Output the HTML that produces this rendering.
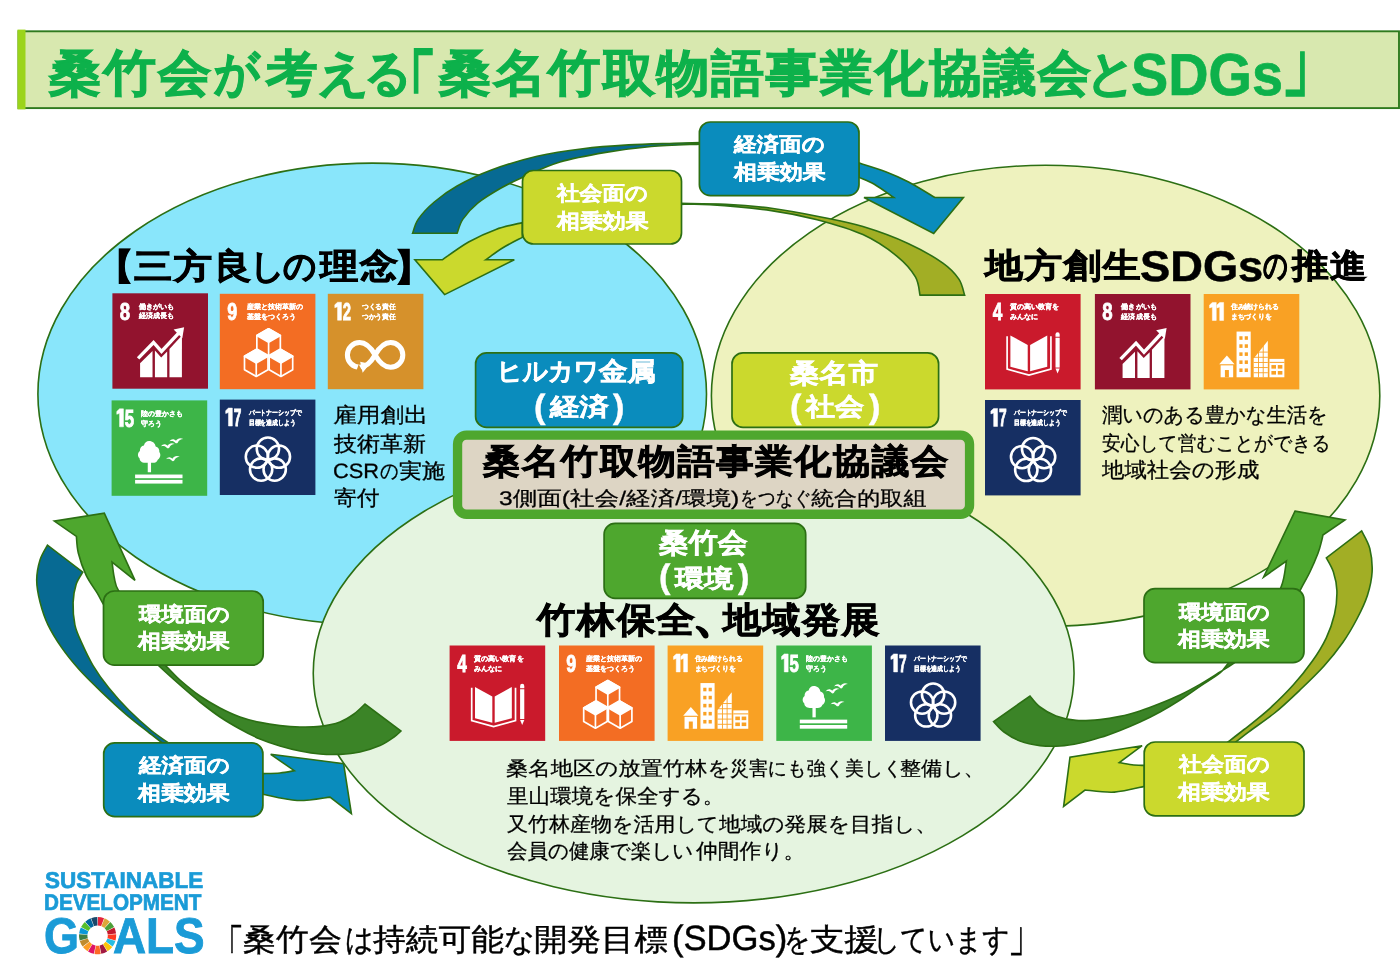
<!DOCTYPE html>
<html lang="ja">
<head>
<meta charset="utf-8">
<title>桑竹会が考える「桑名竹取物語事業化協議会とSDGs」</title>
<style>
html,body{margin:0;padding:0;background:#fff}
body{width:1400px;height:979px;position:relative;overflow:hidden;font-family:"Liberation Sans",sans-serif}
#bg{position:absolute;left:0;top:0;will-change:transform}
#tx{position:absolute;left:0;top:0;width:1400px;height:979px;will-change:transform}
.t{position:absolute;white-space:nowrap;line-height:1;transform-origin:0 0;margin:0;padding:0;text-rendering:geometricPrecision}
.b{font-weight:bold}
.w{color:#fff}
</style>
</head>
<body>
<svg id="bg" width="1400" height="979" viewBox="0 0 1400 979">
<rect x="18.5" y="31.3" width="1380.5" height="76.8" fill="#d8e8af" stroke="#2f7a1e" stroke-width="1.9"/>
<rect x="17.5" y="29.6" width="8" height="79.8" fill="#9bd41a"/>
<ellipse cx="372.2" cy="394" rx="334.3" ry="230.9" fill="#89e6fb" stroke="#2c6f14" stroke-width="1.6"/>
<ellipse cx="1045.6" cy="395.8" rx="334.2" ry="230.5" fill="#eef2be" stroke="#2c6f14" stroke-width="1.6"/>
<ellipse cx="693.65" cy="673.3" rx="380.4" ry="229.55" fill="#e5f4e0" stroke="#2c6f14" stroke-width="1.6"/>
<path d="M412.6,233.3 C413.6,230.9 414.7,224.3 418.3,219.1 C421.9,213.9 427.8,207.5 434.3,202.0 C440.8,196.5 447.6,191.3 457.1,186.0 C466.6,180.7 478.1,174.9 491.4,170.0 C504.7,165.1 521.9,159.9 537.1,156.3 C552.4,152.8 567.6,150.6 582.9,148.7 C598.1,146.8 613.4,145.8 628.6,144.9 C643.8,144.0 662.4,143.7 674.3,143.3 C686.2,142.9 695.7,142.7 700.0,142.6 L700.0,144.2 C691.9,144.6 667.1,145.1 651.4,146.5 C635.7,147.9 620.9,149.8 605.7,152.4 C590.5,155.0 573.7,157.9 560.0,162.0 C546.3,166.1 533.3,172.5 523.4,176.9 C513.5,181.3 508.2,183.9 500.6,188.3 C493.0,192.7 484.0,198.0 477.7,203.1 C471.4,208.2 466.3,214.1 462.9,219.1 C459.5,224.1 458.1,230.9 457.1,233.3 Z" fill="#076a93" stroke="#2c6f14" stroke-width="1.6" stroke-linejoin="miter"/>
<path d="M859.0,163.0 C863.5,164.4 877.4,168.5 885.7,171.7 C894.0,174.9 900.4,177.7 908.6,182.0 C916.8,186.3 930.5,194.9 934.9,197.5 L963.4,197.5 L933.7,233.4 L864.0,197.5 L893.7,197.5 C890.5,195.3 880.1,187.7 874.3,184.3 C868.5,181.0 861.5,178.6 859.0,177.4 Z" fill="#0a8cbd" stroke="#2c6f14" stroke-width="1.6" stroke-linejoin="miter"/>
<path d="M680.0,203.3 C687.6,203.5 710.5,203.4 725.7,204.2 C740.9,205.0 756.2,206.3 771.4,208.3 C786.6,210.3 801.9,213.2 817.1,216.3 C832.4,219.4 847.6,222.0 862.9,226.6 C878.1,231.2 895.3,237.6 908.6,243.7 C921.9,249.8 934.5,257.2 942.9,263.1 C951.3,269.0 955.3,273.8 958.9,279.1 C962.5,284.4 963.6,292.4 964.6,295.1 L920.0,295.1 C919.2,292.1 919.2,283.4 915.4,276.9 C911.6,270.4 905.9,263.4 897.1,256.3 C888.4,249.2 876.2,240.7 862.9,234.6 C849.6,228.5 832.4,223.7 817.1,219.7 C801.9,215.7 789.3,213.1 771.4,210.6 C753.5,208.1 724.9,205.6 709.7,204.6 C694.5,203.6 685.0,204.4 680.0,204.4 Z" fill="#a2ae25" stroke="#2c6f14" stroke-width="1.6" stroke-linejoin="miter"/>
<path d="M522.3,222.6 C517.9,223.7 504.9,226.2 496.0,229.4 C487.1,232.6 477.6,236.9 468.6,242.0 C459.7,247.1 446.7,256.8 442.3,259.8 L414.9,259.8 L444.6,294.6 L514.3,259.8 L485.7,259.8 C488.6,257.8 496.8,251.4 502.9,247.7 C509.0,244.0 519.1,239.1 522.3,237.4 Z" fill="#cbd92d" stroke="#2c6f14" stroke-width="1.6" stroke-linejoin="miter"/>
<path d="M150.0,652.0 C152.7,654.3 161.0,661.3 166.0,666.0 C171.0,670.7 174.3,675.0 180.0,680.0 C185.7,685.0 193.3,691.3 200.0,696.0 C206.7,700.7 213.3,704.5 220.0,708.0 C226.7,711.5 233.3,714.6 240.0,717.0 C246.7,719.4 253.3,721.0 260.0,722.4 C266.7,723.8 273.3,724.8 280.0,725.6 C286.7,726.4 293.3,726.9 300.0,727.0 C306.7,727.1 313.3,727.2 320.0,726.4 C326.7,725.6 334.3,724.1 340.0,722.0 C345.7,719.9 349.8,717.0 354.0,714.0 C358.2,711.0 363.2,705.7 365.0,704.0 L401.0,731.0 C399.8,732.0 397.5,734.6 394.0,737.0 C390.5,739.4 385.7,743.1 380.0,745.6 C374.3,748.1 366.7,750.5 360.0,752.0 C353.3,753.5 346.7,754.1 340.0,754.4 C333.3,754.7 326.7,754.6 320.0,754.0 C313.3,753.4 306.7,752.3 300.0,751.0 C293.3,749.7 286.7,748.0 280.0,746.0 C273.3,744.0 266.7,741.8 260.0,739.0 C253.3,736.2 246.7,732.7 240.0,729.0 C233.3,725.3 226.7,721.5 220.0,717.0 C213.3,712.5 206.7,707.3 200.0,702.0 C193.3,696.7 186.8,691.0 180.0,685.0 C173.2,679.0 164.8,671.5 159.0,666.0 C153.2,660.5 147.3,654.3 145.0,652.0 Z" fill="#3b8427" stroke="#2c6f14" stroke-width="1.6" stroke-linejoin="miter"/>
<path d="M54.3,521.1 L104.3,513.1 L135.0,580.3 L112.1,562.1 C112.5,565.1 113.2,572.9 114.3,577.7 C115.4,582.5 114.5,584.2 118.8,591.2 C123.1,598.2 136.5,615.2 140.0,620.0 L120.0,630.0 C117.2,625.6 106.8,609.6 103.0,603.5 C99.2,597.4 100.2,598.1 97.4,593.4 C94.6,588.7 89.4,582.1 86.2,575.4 C83.0,568.7 79.9,559.5 78.3,553.0 C76.7,546.5 76.7,539.2 76.4,536.4 Z" fill="#4ea72e" stroke="#2c6f14" stroke-width="1.6" stroke-linejoin="miter"/>
<path d="M47.5,545.1 C46.3,547.5 41.9,553.9 40.1,559.7 C38.3,565.5 36.7,572.9 36.7,580.0 C36.7,587.1 38.2,594.9 40.1,602.4 C42.0,609.9 44.4,617.4 48.0,624.9 C51.6,632.4 56.3,639.9 61.5,647.4 C66.7,654.9 72.7,662.3 79.4,669.8 C86.1,677.3 94.0,684.8 101.9,692.3 C109.8,699.8 118.7,708.0 126.6,714.8 C134.5,721.5 142.5,727.6 149.1,732.8 C155.7,738.0 163.2,743.8 166.0,746.0 L173.0,746.0 C169.4,743.4 158.7,736.5 151.3,730.5 C144.0,724.5 136.0,717.4 128.9,710.3 C121.8,703.2 114.7,695.3 108.7,687.8 C102.7,680.3 97.4,672.8 92.9,665.3 C88.4,657.8 84.7,649.6 81.7,642.9 C78.7,636.2 76.3,631.6 74.9,624.9 C73.5,618.1 72.9,609.1 73.1,602.4 C73.3,595.6 74.5,589.4 76.1,584.4 C77.7,579.4 81.7,574.1 82.8,572.1 Z" fill="#076a93" stroke="#2c6f14" stroke-width="1.6" stroke-linejoin="miter"/>
<path d="M262.9,773.6 C265.8,773.5 274.8,773.5 280.0,773.0 C285.2,772.5 291.9,771.1 294.3,770.7 L270.7,754.3 L343.6,763.6 L351.4,813.6 L330.0,797.1 C324.5,797.7 308.3,801.0 297.1,800.5 C285.9,800.0 268.6,795.3 262.9,794.3 Z" fill="#0a8cbd" stroke="#2c6f14" stroke-width="1.6" stroke-linejoin="miter"/>
<path d="M1248.0,652.0 C1245.7,653.8 1238.7,659.7 1234.0,663.0 C1229.3,666.3 1225.7,668.4 1220.0,672.0 C1214.3,675.6 1206.7,680.6 1200.0,684.4 C1193.3,688.2 1186.7,691.8 1180.0,695.0 C1173.3,698.2 1166.7,700.9 1160.0,703.6 C1153.3,706.3 1146.7,708.9 1140.0,711.0 C1133.3,713.1 1126.7,715.0 1120.0,716.4 C1113.3,717.8 1107.3,718.9 1100.0,719.6 C1092.7,720.3 1083.3,721.0 1076.0,720.4 C1068.7,719.8 1062.0,718.2 1056.0,716.0 C1050.0,713.8 1044.3,710.3 1040.0,707.0 C1035.7,703.7 1031.7,697.8 1030.0,696.0 L993.6,721.6 C995.3,723.3 999.6,728.8 1004.0,732.0 C1008.4,735.2 1014.0,738.7 1020.0,741.0 C1026.0,743.3 1033.3,744.8 1040.0,745.6 C1046.7,746.4 1053.3,746.4 1060.0,746.0 C1066.7,745.6 1073.3,744.4 1080.0,743.0 C1086.7,741.6 1093.3,739.7 1100.0,737.6 C1106.7,735.5 1113.3,733.0 1120.0,730.4 C1126.7,727.8 1133.3,725.1 1140.0,722.0 C1146.7,718.9 1153.3,715.7 1160.0,712.0 C1166.7,708.3 1173.3,704.3 1180.0,700.0 C1186.7,695.7 1193.3,690.9 1200.0,686.4 C1206.7,681.9 1215.3,676.8 1220.0,673.0 C1224.7,669.2 1224.7,667.1 1228.0,663.6 C1231.3,660.1 1238.0,653.9 1240.0,652.0 Z" fill="#3b8427" stroke="#2c6f14" stroke-width="1.6" stroke-linejoin="miter"/>
<path d="M1295.0,511.1 L1345.0,520.0 L1322.9,535.0 C1322.7,536.0 1322.4,538.0 1321.6,541.0 C1320.8,544.0 1320.0,548.0 1318.0,553.2 C1316.0,558.4 1312.8,565.9 1309.9,572.0 C1307.0,578.1 1303.8,582.9 1300.5,589.6 C1297.2,596.3 1291.8,608.3 1290.0,612.0 L1270.0,610.0 C1271.8,606.4 1278.2,594.0 1280.5,588.5 C1282.8,583.0 1283.0,581.3 1284.0,576.7 C1285.0,572.1 1286.0,563.6 1286.4,561.0 L1263.6,577.1 Z" fill="#4ea72e" stroke="#2c6f14" stroke-width="1.6" stroke-linejoin="miter"/>
<path d="M1361.6,530.9 C1363.0,533.8 1368.0,541.6 1369.8,548.5 C1371.5,555.4 1372.5,564.2 1372.1,572.0 C1371.7,579.8 1369.9,587.7 1367.4,595.5 C1364.9,603.3 1361.0,611.2 1356.9,619.0 C1352.8,626.8 1348.3,634.7 1342.8,642.5 C1337.3,650.3 1331.0,658.2 1324.0,666.0 C1317.0,673.8 1308.7,681.7 1300.5,689.5 C1292.3,697.3 1283.2,706.0 1274.6,713.0 C1266.0,720.0 1255.9,726.5 1248.8,731.8 C1241.7,737.1 1234.8,742.8 1232.0,745.0 L1224.0,745.0 C1227.3,742.4 1236.4,735.6 1244.1,729.5 C1251.8,723.4 1261.7,715.8 1269.9,708.3 C1278.1,700.8 1286.4,692.6 1293.4,684.8 C1300.5,677.0 1306.7,669.1 1312.2,661.3 C1317.7,653.5 1322.6,645.6 1326.3,637.8 C1330.0,630.0 1332.7,622.1 1334.5,614.3 C1336.3,606.5 1337.1,597.8 1336.9,590.8 C1336.7,583.8 1335.2,577.5 1333.4,572.0 C1331.6,566.5 1327.5,560.2 1326.3,557.9 Z" fill="#a2ae25" stroke="#2c6f14" stroke-width="1.6" stroke-linejoin="miter"/>
<path d="M1142.1,745.7 L1070.0,757.1 L1063.6,806.4 L1085.0,790.0 C1089.9,790.4 1104.4,792.7 1114.3,792.1 C1124.2,791.5 1139.3,787.4 1144.3,786.4 L1144.3,765.4 C1142.2,765.3 1136.2,765.3 1132.0,764.8 C1127.8,764.3 1121.4,763.0 1119.3,762.6 Z" fill="#cbd92d" stroke="#2c6f14" stroke-width="1.6" stroke-linejoin="miter"/>
<rect x="699.4" y="122.0" width="159.6" height="73.7" rx="11" fill="#0a8cbd" stroke="#2c6f14" stroke-width="1.7"/>
<rect x="522.5" y="170.5" width="159.0" height="73.5" rx="11" fill="#cbd92d" stroke="#2c6f14" stroke-width="1.7"/>
<rect x="103.5" y="591.0" width="159.7" height="74.2" rx="11" fill="#4ea72e" stroke="#2c6f14" stroke-width="1.7"/>
<rect x="103.7" y="742.9" width="159.2" height="73.7" rx="11" fill="#0a8cbd" stroke="#2c6f14" stroke-width="1.7"/>
<rect x="1144.0" y="588.7" width="160.0" height="74.0" rx="11" fill="#4ea72e" stroke="#2c6f14" stroke-width="1.7"/>
<rect x="1144.2" y="742.0" width="159.8" height="73.8" rx="11" fill="#cbd92d" stroke="#2c6f14" stroke-width="1.7"/>
<rect x="475.6" y="352.9" width="207.1" height="74.5" rx="11" fill="#0a8cbd" stroke="#2c6f14" stroke-width="1.7"/>
<rect x="732.0" y="352.9" width="206.6" height="74.5" rx="11" fill="#cbd92d" stroke="#2c6f14" stroke-width="1.7"/>
<rect x="604.1" y="523.4" width="201.6" height="74.9" rx="11" fill="#4ea72e" stroke="#2c6f14" stroke-width="1.7"/>
<rect x="457.55" y="435.15" width="512" height="79.1" rx="9" fill="#ddd5c4" stroke="#4ea72e" stroke-width="9.3"/>
<g transform="translate(112.4,293.3) scale(0.9958,0.9938)"><rect x="0" y="0" width="96" height="96" fill="#92132e"/><text x="7.3" y="26.5" font-family="'Liberation Sans',sans-serif" font-weight="bold" font-size="24.6" fill="#fff" stroke="#fff" stroke-width="0.9" textLength="10.4" lengthAdjust="spacingAndGlyphs">8</text><text x="26.6" y="15.3" font-family="'Liberation Sans',sans-serif" font-weight="bold" font-size="7.2" fill="#fff" stroke="#fff" stroke-width="0.22" textLength="35.5" lengthAdjust="spacingAndGlyphs">働きがいも</text><text x="26.6" y="25.3" font-family="'Liberation Sans',sans-serif" font-weight="bold" font-size="7.2" fill="#fff" stroke="#fff" stroke-width="0.22" textLength="35.5" lengthAdjust="spacingAndGlyphs">経済成長も</text><polygon points="27.8,84.4 27.8,70.5 40.3,58 40.3,84.4" fill="#fff"/><polygon points="42.7,84.4 42.7,57.5 49,64.5 55,58.5 55,84.4" fill="#fff"/><polygon points="57.3,84.4 57.3,56 69.8,42.5 69.8,84.4" fill="#fff"/><polyline points="25.8,65.5 41.3,49.5 49.3,58.5 67,39.5" fill="none" stroke="#fff" stroke-width="3.4" stroke-linejoin="miter"/><polygon points="72,34.2 70.2,45.2 61.5,36.5" fill="#fff"/></g>
<g transform="translate(219.8,293.8) scale(0.9958,0.9938)"><rect x="0" y="0" width="96" height="96" fill="#f36d23"/><text x="7.4" y="26.5" font-family="'Liberation Sans',sans-serif" font-weight="bold" font-size="24.6" fill="#fff" stroke="#fff" stroke-width="0.9" textLength="10.0" lengthAdjust="spacingAndGlyphs">9</text><text x="27.1" y="15.3" font-family="'Liberation Sans',sans-serif" font-weight="bold" font-size="7.2" fill="#fff" stroke="#fff" stroke-width="0.22" textLength="56.6" lengthAdjust="spacingAndGlyphs">産業と技術革新の</text><text x="27.1" y="25.3" font-family="'Liberation Sans',sans-serif" font-weight="bold" font-size="7.2" fill="#fff" stroke="#fff" stroke-width="0.22" textLength="49.5" lengthAdjust="spacingAndGlyphs">基盤をつくろう</text><polygon points="49.0,35.2 60.8,42.0 49.0,48.8 37.2,42.0" fill="#fff" stroke="#fff" stroke-width="1.7" stroke-linejoin="round"/><polygon points="49.0,35.2 60.8,42.0 60.8,55.6 49.0,62.4 37.2,55.6 37.2,42.0" fill="none" stroke="#fff" stroke-width="1.7" stroke-linejoin="round"/><polyline points="49.0,48.8 49.0,62.4" fill="none" stroke="#fff" stroke-width="1.7"/><polygon points="36.6,56.0 48.4,62.8 36.6,69.6 24.8,62.8" fill="#fff" stroke="#fff" stroke-width="1.7" stroke-linejoin="round"/><polygon points="36.6,56.0 48.4,62.8 48.4,76.4 36.6,83.2 24.8,76.4 24.8,62.8" fill="none" stroke="#fff" stroke-width="1.7" stroke-linejoin="round"/><polyline points="36.6,69.6 36.6,83.2" fill="none" stroke="#fff" stroke-width="1.7"/><polygon points="61.4,56.0 73.2,62.8 61.4,69.6 49.6,62.8" fill="#fff" stroke="#fff" stroke-width="1.7" stroke-linejoin="round"/><polygon points="61.4,56.0 73.2,62.8 73.2,76.4 61.4,83.2 49.6,76.4 49.6,62.8" fill="none" stroke="#fff" stroke-width="1.7" stroke-linejoin="round"/><polyline points="61.4,69.6 61.4,83.2" fill="none" stroke="#fff" stroke-width="1.7"/></g>
<g transform="translate(327.8,293.8) scale(0.9958,0.9938)"><rect x="0" y="0" width="96" height="96" fill="#d6912b"/><path d="M9.8,8.5 h3.9 v18.1 h-3.9 v-13.6 l-2.8,1 v-2.9 z" fill="#fff" stroke="#fff" stroke-width="0.5"/><text x="15.1" y="26.5" font-family="'Liberation Sans',sans-serif" font-weight="bold" font-size="24.6" fill="#fff" stroke="#fff" stroke-width="0.9" textLength="8.3" lengthAdjust="spacingAndGlyphs">2</text><text x="34.2" y="15.3" font-family="'Liberation Sans',sans-serif" font-weight="bold" font-size="7.2" fill="#fff" stroke="#fff" stroke-width="0.22" textLength="34.2" lengthAdjust="spacingAndGlyphs">つくる責任</text><text x="34.2" y="25.3" font-family="'Liberation Sans',sans-serif" font-weight="bold" font-size="7.2" fill="#fff" stroke="#fff" stroke-width="0.22" textLength="34.2" lengthAdjust="spacingAndGlyphs">つかう責任</text><g transform="translate(47.5,61.5) scale(0.94) translate(-47.5,-61.8)"><path d="M47.5,61.8 C43,54 38,48.6 31,48.6 C23.7,48.6 17.9,54.5 17.9,61.8 C17.9,69.1 23.7,75 31,75 C38,75 43,69.6 47.5,61.8 C52,54 57,48.6 64,48.6 C71.3,48.6 77.1,54.5 77.1,61.8 C77.1,69.1 71.3,75 64,75 C57,75 52,69.6 47.5,61.8" fill="none" stroke="#fff" stroke-width="5.4"/><polygon points="31.5,69.2 41.8,71.2 34.2,80.8" fill="#fff"/><polygon points="30,71.8 33.5,78.5 27.5,78.8" fill="#d6912b"/></g></g>
<g transform="translate(111.6,400.4) scale(0.9958,0.9938)"><rect x="0" y="0" width="96" height="96" fill="#3db548"/><path d="M8.0,8.5 h3.9 v18.1 h-3.9 v-13.6 l-2.8,1 v-2.9 z" fill="#fff" stroke="#fff" stroke-width="0.5"/><text x="13.3" y="26.5" font-family="'Liberation Sans',sans-serif" font-weight="bold" font-size="24.6" fill="#fff" stroke="#fff" stroke-width="0.9" textLength="9.4" lengthAdjust="spacingAndGlyphs">5</text><text x="30.0" y="15.3" font-family="'Liberation Sans',sans-serif" font-weight="bold" font-size="7.2" fill="#fff" stroke="#fff" stroke-width="0.22" textLength="41.4" lengthAdjust="spacingAndGlyphs">陸の豊かさも</text><text x="30.0" y="25.3" font-family="'Liberation Sans',sans-serif" font-weight="bold" font-size="7.2" fill="#fff" stroke="#fff" stroke-width="0.22" textLength="20.7" lengthAdjust="spacingAndGlyphs">守ろう</text><path transform="translate(37.9,62.3) scale(0.88,0.93) translate(-37.9,-62.3)" d="M37.5,39.2 c4.2,0 7.2,2.6 7.6,6 c3,0.8 4.6,3.2 4.2,6 c2,2.4 1.4,6.6 -1.8,8.2 c-1,2.6 -3.4,3.6 -6,3.4 h-8.6 c-3.4,0 -6,-2 -6.2,-5 c-2.6,-2.2 -2.2,-6 0.4,-7.8 c-0.2,-3.2 1.8,-5.6 4.6,-6 c0.8,-3 3,-4.8 5.8,-4.8 z" fill="#fff"/><rect x="36.3" y="61" width="3.3" height="11.3" fill="#fff"/><rect x="23.6" y="74.6" width="47.6" height="3.7" fill="#fff"/><rect x="23.6" y="80" width="47.6" height="3.7" fill="#fff"/><path d="M49.5,46.2 c2,-2.6 4.6,-2.8 6.6,-0.6 c1.6,-2.6 4.6,-3.2 7.4,-1.8 c-2.6,0.2 -4.4,1.2 -5.6,3.8 c-0.8,0.8 -1.8,0.8 -2.6,0 c-1.4,-1.8 -3.2,-2.2 -5.8,-1.4 z" fill="#fff"/><path d="M58.0,41.2 c2,-2.6 4.6,-2.8 6.6,-0.6 c1.6,-2.6 4.6,-3.2 7.4,-1.8 c-2.6,0.2 -4.4,1.2 -5.6,3.8 c-0.8,0.8 -1.8,0.8 -2.6,0 c-1.4,-1.8 -3.2,-2.2 -5.8,-1.4 z" fill="#fff"/><path d="M54.5,59.2 c2,-2.6 4.6,-2.8 6.6,-0.6 c1.6,-2.6 4.6,-3.2 7.4,-1.8 c-2.6,0.2 -4.4,1.2 -5.6,3.8 c-0.8,0.8 -1.8,0.8 -2.6,0 c-1.4,-1.8 -3.2,-2.2 -5.8,-1.4 z" fill="#fff"/></g>
<g transform="translate(219.8,399.6) scale(0.9958,0.9938)"><rect x="0" y="0" width="96" height="96" fill="#162f63"/><path d="M8.7,8.5 h3.9 v18.1 h-3.9 v-13.6 l-2.8,1 v-2.9 z" fill="#fff" stroke="#fff" stroke-width="0.5"/><text x="14.0" y="26.5" font-family="'Liberation Sans',sans-serif" font-weight="bold" font-size="24.6" fill="#fff" stroke="#fff" stroke-width="0.9" textLength="7.7" lengthAdjust="spacingAndGlyphs">7</text><text x="29.0" y="15.3" font-family="'Liberation Sans',sans-serif" font-weight="bold" font-size="7.2" fill="#fff" stroke="#fff" stroke-width="0.22" textLength="53.1" lengthAdjust="spacingAndGlyphs">パートナーシップで</text><text x="29.0" y="25.3" font-family="'Liberation Sans',sans-serif" font-weight="bold" font-size="7.2" fill="#fff" stroke="#fff" stroke-width="0.22" textLength="47.2" lengthAdjust="spacingAndGlyphs">目標を達成しよう</text><circle cx="48.30" cy="49.40" r="11.2" fill="none" stroke="#fff" stroke-width="2.6"/><circle cx="59.33" cy="57.42" r="11.2" fill="none" stroke="#fff" stroke-width="2.6"/><circle cx="55.12" cy="70.38" r="11.2" fill="none" stroke="#fff" stroke-width="2.6"/><circle cx="41.48" cy="70.38" r="11.2" fill="none" stroke="#fff" stroke-width="2.6"/><circle cx="37.27" cy="57.42" r="11.2" fill="none" stroke="#fff" stroke-width="2.6"/></g>
<g transform="translate(985.0,294.0) scale(0.9958,0.9938)"><rect x="0" y="0" width="96" height="96" fill="#ca1a2c"/><text x="7.8" y="26.5" font-family="'Liberation Sans',sans-serif" font-weight="bold" font-size="24.6" fill="#fff" stroke="#fff" stroke-width="0.9" textLength="9.6" lengthAdjust="spacingAndGlyphs">4</text><text x="24.8" y="15.3" font-family="'Liberation Sans',sans-serif" font-weight="bold" font-size="7.2" fill="#fff" stroke="#fff" stroke-width="0.22" textLength="49.5" lengthAdjust="spacingAndGlyphs">質の高い教育を</text><text x="24.8" y="25.3" font-family="'Liberation Sans',sans-serif" font-weight="bold" font-size="7.2" fill="#fff" stroke="#fff" stroke-width="0.22" textLength="28.3" lengthAdjust="spacingAndGlyphs">みんなに</text><polygon points="25.5,41.7 42.9,51.2 42.9,77.8 25.5,73.1" fill="#fff"/><polygon points="45.3,51.2 62.5,41.7 62.5,73.1 45.3,77.8" fill="#fff"/><polyline points="22.2,42.5 22.2,75.6 44.2,81.6 66.2,75.6 66.2,42.5" fill="none" stroke="#fff" stroke-width="1.7"/><rect x="70.8" y="44" width="4.2" height="30" fill="#fff"/><polygon points="70.8,75 75,75 72.9,80" fill="#fff"/><path d="M70.8,42.9 v-2.2 a2.1,2.1 0 0 1 4.2,0 v2.2 z" fill="#fff"/></g>
<g transform="translate(1094.9,294.0) scale(0.9958,0.9938)"><rect x="0" y="0" width="96" height="96" fill="#92132e"/><text x="7.3" y="26.5" font-family="'Liberation Sans',sans-serif" font-weight="bold" font-size="24.6" fill="#fff" stroke="#fff" stroke-width="0.9" textLength="10.4" lengthAdjust="spacingAndGlyphs">8</text><text x="26.6" y="15.3" font-family="'Liberation Sans',sans-serif" font-weight="bold" font-size="7.2" fill="#fff" stroke="#fff" stroke-width="0.22" textLength="35.5" lengthAdjust="spacingAndGlyphs">働きがいも</text><text x="26.6" y="25.3" font-family="'Liberation Sans',sans-serif" font-weight="bold" font-size="7.2" fill="#fff" stroke="#fff" stroke-width="0.22" textLength="35.5" lengthAdjust="spacingAndGlyphs">経済成長も</text><polygon points="27.8,84.4 27.8,70.5 40.3,58 40.3,84.4" fill="#fff"/><polygon points="42.7,84.4 42.7,57.5 49,64.5 55,58.5 55,84.4" fill="#fff"/><polygon points="57.3,84.4 57.3,56 69.8,42.5 69.8,84.4" fill="#fff"/><polyline points="25.8,65.5 41.3,49.5 49.3,58.5 67,39.5" fill="none" stroke="#fff" stroke-width="3.4" stroke-linejoin="miter"/><polygon points="72,34.2 70.2,45.2 61.5,36.5" fill="#fff"/></g>
<g transform="translate(1203.7,294.0) scale(0.9958,0.9938)"><rect x="0" y="0" width="96" height="96" fill="#f9a124"/><path d="M8.7,8.5 h3.9 v18.1 h-3.9 v-13.6 l-2.8,1 v-2.9 z" fill="#fff" stroke="#fff" stroke-width="0.5"/><path d="M16.1,8.5 h3.9 v18.1 h-3.9 v-13.6 l-2.8,1 v-2.9 z" fill="#fff" stroke="#fff" stroke-width="0.5"/><text x="27.1" y="15.3" font-family="'Liberation Sans',sans-serif" font-weight="bold" font-size="7.2" fill="#fff" stroke="#fff" stroke-width="0.22" textLength="48.3" lengthAdjust="spacingAndGlyphs">住み続けられる</text><text x="27.1" y="25.3" font-family="'Liberation Sans',sans-serif" font-weight="bold" font-size="7.2" fill="#fff" stroke="#fff" stroke-width="0.22" textLength="41.4" lengthAdjust="spacingAndGlyphs">まちづくりを</text><polygon points="15.6,70.8 23.3,62 31,70.8" fill="#fff"/><rect x="17" y="71.8" width="12.6" height="12" fill="#fff"/><rect x="21.3" y="76.5" width="4" height="7.4" fill="#f9a124"/><rect x="33" y="37.8" width="14.2" height="46" fill="#fff"/><rect x="35.8" y="42.5" width="3.2" height="3.6" fill="#f9a124"/><rect x="41.2" y="42.5" width="3.2" height="3.6" fill="#f9a124"/><rect x="35.8" y="50.6" width="3.2" height="3.6" fill="#f9a124"/><rect x="41.2" y="50.6" width="3.2" height="3.6" fill="#f9a124"/><rect x="35.8" y="58.7" width="3.2" height="3.6" fill="#f9a124"/><rect x="41.2" y="58.7" width="3.2" height="3.6" fill="#f9a124"/><rect x="35.8" y="66.8" width="3.2" height="3.6" fill="#f9a124"/><rect x="41.2" y="66.8" width="3.2" height="3.6" fill="#f9a124"/><rect x="35.8" y="74.9" width="3.2" height="3.6" fill="#f9a124"/><rect x="41.2" y="74.9" width="3.2" height="3.6" fill="#f9a124"/><polygon points="50.2,83.8 50.2,65 64.4,47 64.4,83.8" fill="#fff"/><rect x="50.2" y="58.0" width="14.2" height="0.9" fill="#f9a124"/><rect x="50.2" y="63.2" width="14.2" height="0.9" fill="#f9a124"/><rect x="50.2" y="68.4" width="14.2" height="0.9" fill="#f9a124"/><rect x="50.2" y="73.6" width="14.2" height="0.9" fill="#f9a124"/><rect x="50.2" y="78.8" width="14.2" height="0.9" fill="#f9a124"/><rect x="54.6" y="47" width="0.9" height="36.8" fill="#f9a124"/><rect x="59.3" y="47" width="0.9" height="36.8" fill="#f9a124"/><rect x="66" y="65.3" width="15" height="18.5" fill="#fff"/><rect x="66" y="68.3" width="15" height="1" fill="#f9a124"/><rect x="68.0" y="71.5" width="4.6" height="3.6" fill="#f9a124"/><rect x="74.4" y="71.5" width="4.6" height="3.6" fill="#f9a124"/><rect x="68.0" y="77.5" width="4.6" height="3.6" fill="#f9a124"/><rect x="74.4" y="77.5" width="4.6" height="3.6" fill="#f9a124"/></g>
<g transform="translate(985.0,400.0) scale(0.9958,0.9938)"><rect x="0" y="0" width="96" height="96" fill="#162f63"/><path d="M8.7,8.5 h3.9 v18.1 h-3.9 v-13.6 l-2.8,1 v-2.9 z" fill="#fff" stroke="#fff" stroke-width="0.5"/><text x="14.0" y="26.5" font-family="'Liberation Sans',sans-serif" font-weight="bold" font-size="24.6" fill="#fff" stroke="#fff" stroke-width="0.9" textLength="7.7" lengthAdjust="spacingAndGlyphs">7</text><text x="29.0" y="15.3" font-family="'Liberation Sans',sans-serif" font-weight="bold" font-size="7.2" fill="#fff" stroke="#fff" stroke-width="0.22" textLength="53.1" lengthAdjust="spacingAndGlyphs">パートナーシップで</text><text x="29.0" y="25.3" font-family="'Liberation Sans',sans-serif" font-weight="bold" font-size="7.2" fill="#fff" stroke="#fff" stroke-width="0.22" textLength="47.2" lengthAdjust="spacingAndGlyphs">目標を達成しよう</text><circle cx="48.30" cy="49.40" r="11.2" fill="none" stroke="#fff" stroke-width="2.6"/><circle cx="59.33" cy="57.42" r="11.2" fill="none" stroke="#fff" stroke-width="2.6"/><circle cx="55.12" cy="70.38" r="11.2" fill="none" stroke="#fff" stroke-width="2.6"/><circle cx="41.48" cy="70.38" r="11.2" fill="none" stroke="#fff" stroke-width="2.6"/><circle cx="37.27" cy="57.42" r="11.2" fill="none" stroke="#fff" stroke-width="2.6"/></g>
<g transform="translate(449.6,645.5) scale(0.9958,0.9938)"><rect x="0" y="0" width="96" height="96" fill="#ca1a2c"/><text x="7.8" y="26.5" font-family="'Liberation Sans',sans-serif" font-weight="bold" font-size="24.6" fill="#fff" stroke="#fff" stroke-width="0.9" textLength="9.6" lengthAdjust="spacingAndGlyphs">4</text><text x="24.8" y="15.3" font-family="'Liberation Sans',sans-serif" font-weight="bold" font-size="7.2" fill="#fff" stroke="#fff" stroke-width="0.22" textLength="49.5" lengthAdjust="spacingAndGlyphs">質の高い教育を</text><text x="24.8" y="25.3" font-family="'Liberation Sans',sans-serif" font-weight="bold" font-size="7.2" fill="#fff" stroke="#fff" stroke-width="0.22" textLength="28.3" lengthAdjust="spacingAndGlyphs">みんなに</text><polygon points="25.5,41.7 42.9,51.2 42.9,77.8 25.5,73.1" fill="#fff"/><polygon points="45.3,51.2 62.5,41.7 62.5,73.1 45.3,77.8" fill="#fff"/><polyline points="22.2,42.5 22.2,75.6 44.2,81.6 66.2,75.6 66.2,42.5" fill="none" stroke="#fff" stroke-width="1.7"/><rect x="70.8" y="44" width="4.2" height="30" fill="#fff"/><polygon points="70.8,75 75,75 72.9,80" fill="#fff"/><path d="M70.8,42.9 v-2.2 a2.1,2.1 0 0 1 4.2,0 v2.2 z" fill="#fff"/></g>
<g transform="translate(559.0,645.5) scale(0.9958,0.9938)"><rect x="0" y="0" width="96" height="96" fill="#f36d23"/><text x="7.4" y="26.5" font-family="'Liberation Sans',sans-serif" font-weight="bold" font-size="24.6" fill="#fff" stroke="#fff" stroke-width="0.9" textLength="10.0" lengthAdjust="spacingAndGlyphs">9</text><text x="27.1" y="15.3" font-family="'Liberation Sans',sans-serif" font-weight="bold" font-size="7.2" fill="#fff" stroke="#fff" stroke-width="0.22" textLength="56.6" lengthAdjust="spacingAndGlyphs">産業と技術革新の</text><text x="27.1" y="25.3" font-family="'Liberation Sans',sans-serif" font-weight="bold" font-size="7.2" fill="#fff" stroke="#fff" stroke-width="0.22" textLength="49.5" lengthAdjust="spacingAndGlyphs">基盤をつくろう</text><polygon points="49.0,35.2 60.8,42.0 49.0,48.8 37.2,42.0" fill="#fff" stroke="#fff" stroke-width="1.7" stroke-linejoin="round"/><polygon points="49.0,35.2 60.8,42.0 60.8,55.6 49.0,62.4 37.2,55.6 37.2,42.0" fill="none" stroke="#fff" stroke-width="1.7" stroke-linejoin="round"/><polyline points="49.0,48.8 49.0,62.4" fill="none" stroke="#fff" stroke-width="1.7"/><polygon points="36.6,56.0 48.4,62.8 36.6,69.6 24.8,62.8" fill="#fff" stroke="#fff" stroke-width="1.7" stroke-linejoin="round"/><polygon points="36.6,56.0 48.4,62.8 48.4,76.4 36.6,83.2 24.8,76.4 24.8,62.8" fill="none" stroke="#fff" stroke-width="1.7" stroke-linejoin="round"/><polyline points="36.6,69.6 36.6,83.2" fill="none" stroke="#fff" stroke-width="1.7"/><polygon points="61.4,56.0 73.2,62.8 61.4,69.6 49.6,62.8" fill="#fff" stroke="#fff" stroke-width="1.7" stroke-linejoin="round"/><polygon points="61.4,56.0 73.2,62.8 73.2,76.4 61.4,83.2 49.6,76.4 49.6,62.8" fill="none" stroke="#fff" stroke-width="1.7" stroke-linejoin="round"/><polyline points="61.4,69.6 61.4,83.2" fill="none" stroke="#fff" stroke-width="1.7"/></g>
<g transform="translate(667.6,645.5) scale(0.9958,0.9938)"><rect x="0" y="0" width="96" height="96" fill="#f9a124"/><path d="M8.7,8.5 h3.9 v18.1 h-3.9 v-13.6 l-2.8,1 v-2.9 z" fill="#fff" stroke="#fff" stroke-width="0.5"/><path d="M16.1,8.5 h3.9 v18.1 h-3.9 v-13.6 l-2.8,1 v-2.9 z" fill="#fff" stroke="#fff" stroke-width="0.5"/><text x="27.1" y="15.3" font-family="'Liberation Sans',sans-serif" font-weight="bold" font-size="7.2" fill="#fff" stroke="#fff" stroke-width="0.22" textLength="48.3" lengthAdjust="spacingAndGlyphs">住み続けられる</text><text x="27.1" y="25.3" font-family="'Liberation Sans',sans-serif" font-weight="bold" font-size="7.2" fill="#fff" stroke="#fff" stroke-width="0.22" textLength="41.4" lengthAdjust="spacingAndGlyphs">まちづくりを</text><polygon points="15.6,70.8 23.3,62 31,70.8" fill="#fff"/><rect x="17" y="71.8" width="12.6" height="12" fill="#fff"/><rect x="21.3" y="76.5" width="4" height="7.4" fill="#f9a124"/><rect x="33" y="37.8" width="14.2" height="46" fill="#fff"/><rect x="35.8" y="42.5" width="3.2" height="3.6" fill="#f9a124"/><rect x="41.2" y="42.5" width="3.2" height="3.6" fill="#f9a124"/><rect x="35.8" y="50.6" width="3.2" height="3.6" fill="#f9a124"/><rect x="41.2" y="50.6" width="3.2" height="3.6" fill="#f9a124"/><rect x="35.8" y="58.7" width="3.2" height="3.6" fill="#f9a124"/><rect x="41.2" y="58.7" width="3.2" height="3.6" fill="#f9a124"/><rect x="35.8" y="66.8" width="3.2" height="3.6" fill="#f9a124"/><rect x="41.2" y="66.8" width="3.2" height="3.6" fill="#f9a124"/><rect x="35.8" y="74.9" width="3.2" height="3.6" fill="#f9a124"/><rect x="41.2" y="74.9" width="3.2" height="3.6" fill="#f9a124"/><polygon points="50.2,83.8 50.2,65 64.4,47 64.4,83.8" fill="#fff"/><rect x="50.2" y="58.0" width="14.2" height="0.9" fill="#f9a124"/><rect x="50.2" y="63.2" width="14.2" height="0.9" fill="#f9a124"/><rect x="50.2" y="68.4" width="14.2" height="0.9" fill="#f9a124"/><rect x="50.2" y="73.6" width="14.2" height="0.9" fill="#f9a124"/><rect x="50.2" y="78.8" width="14.2" height="0.9" fill="#f9a124"/><rect x="54.6" y="47" width="0.9" height="36.8" fill="#f9a124"/><rect x="59.3" y="47" width="0.9" height="36.8" fill="#f9a124"/><rect x="66" y="65.3" width="15" height="18.5" fill="#fff"/><rect x="66" y="68.3" width="15" height="1" fill="#f9a124"/><rect x="68.0" y="71.5" width="4.6" height="3.6" fill="#f9a124"/><rect x="74.4" y="71.5" width="4.6" height="3.6" fill="#f9a124"/><rect x="68.0" y="77.5" width="4.6" height="3.6" fill="#f9a124"/><rect x="74.4" y="77.5" width="4.6" height="3.6" fill="#f9a124"/></g>
<g transform="translate(776.3,645.5) scale(0.9958,0.9938)"><rect x="0" y="0" width="96" height="96" fill="#3db548"/><path d="M8.0,8.5 h3.9 v18.1 h-3.9 v-13.6 l-2.8,1 v-2.9 z" fill="#fff" stroke="#fff" stroke-width="0.5"/><text x="13.3" y="26.5" font-family="'Liberation Sans',sans-serif" font-weight="bold" font-size="24.6" fill="#fff" stroke="#fff" stroke-width="0.9" textLength="9.4" lengthAdjust="spacingAndGlyphs">5</text><text x="30.0" y="15.3" font-family="'Liberation Sans',sans-serif" font-weight="bold" font-size="7.2" fill="#fff" stroke="#fff" stroke-width="0.22" textLength="41.4" lengthAdjust="spacingAndGlyphs">陸の豊かさも</text><text x="30.0" y="25.3" font-family="'Liberation Sans',sans-serif" font-weight="bold" font-size="7.2" fill="#fff" stroke="#fff" stroke-width="0.22" textLength="20.7" lengthAdjust="spacingAndGlyphs">守ろう</text><path transform="translate(37.9,62.3) scale(0.88,0.93) translate(-37.9,-62.3)" d="M37.5,39.2 c4.2,0 7.2,2.6 7.6,6 c3,0.8 4.6,3.2 4.2,6 c2,2.4 1.4,6.6 -1.8,8.2 c-1,2.6 -3.4,3.6 -6,3.4 h-8.6 c-3.4,0 -6,-2 -6.2,-5 c-2.6,-2.2 -2.2,-6 0.4,-7.8 c-0.2,-3.2 1.8,-5.6 4.6,-6 c0.8,-3 3,-4.8 5.8,-4.8 z" fill="#fff"/><rect x="36.3" y="61" width="3.3" height="11.3" fill="#fff"/><rect x="23.6" y="74.6" width="47.6" height="3.7" fill="#fff"/><rect x="23.6" y="80" width="47.6" height="3.7" fill="#fff"/><path d="M49.5,46.2 c2,-2.6 4.6,-2.8 6.6,-0.6 c1.6,-2.6 4.6,-3.2 7.4,-1.8 c-2.6,0.2 -4.4,1.2 -5.6,3.8 c-0.8,0.8 -1.8,0.8 -2.6,0 c-1.4,-1.8 -3.2,-2.2 -5.8,-1.4 z" fill="#fff"/><path d="M58.0,41.2 c2,-2.6 4.6,-2.8 6.6,-0.6 c1.6,-2.6 4.6,-3.2 7.4,-1.8 c-2.6,0.2 -4.4,1.2 -5.6,3.8 c-0.8,0.8 -1.8,0.8 -2.6,0 c-1.4,-1.8 -3.2,-2.2 -5.8,-1.4 z" fill="#fff"/><path d="M54.5,59.2 c2,-2.6 4.6,-2.8 6.6,-0.6 c1.6,-2.6 4.6,-3.2 7.4,-1.8 c-2.6,0.2 -4.4,1.2 -5.6,3.8 c-0.8,0.8 -1.8,0.8 -2.6,0 c-1.4,-1.8 -3.2,-2.2 -5.8,-1.4 z" fill="#fff"/></g>
<g transform="translate(885.0,645.5) scale(0.9958,0.9938)"><rect x="0" y="0" width="96" height="96" fill="#162f63"/><path d="M8.7,8.5 h3.9 v18.1 h-3.9 v-13.6 l-2.8,1 v-2.9 z" fill="#fff" stroke="#fff" stroke-width="0.5"/><text x="14.0" y="26.5" font-family="'Liberation Sans',sans-serif" font-weight="bold" font-size="24.6" fill="#fff" stroke="#fff" stroke-width="0.9" textLength="7.7" lengthAdjust="spacingAndGlyphs">7</text><text x="29.0" y="15.3" font-family="'Liberation Sans',sans-serif" font-weight="bold" font-size="7.2" fill="#fff" stroke="#fff" stroke-width="0.22" textLength="53.1" lengthAdjust="spacingAndGlyphs">パートナーシップで</text><text x="29.0" y="25.3" font-family="'Liberation Sans',sans-serif" font-weight="bold" font-size="7.2" fill="#fff" stroke="#fff" stroke-width="0.22" textLength="47.2" lengthAdjust="spacingAndGlyphs">目標を達成しよう</text><circle cx="48.30" cy="49.40" r="11.2" fill="none" stroke="#fff" stroke-width="2.6"/><circle cx="59.33" cy="57.42" r="11.2" fill="none" stroke="#fff" stroke-width="2.6"/><circle cx="55.12" cy="70.38" r="11.2" fill="none" stroke="#fff" stroke-width="2.6"/><circle cx="41.48" cy="70.38" r="11.2" fill="none" stroke="#fff" stroke-width="2.6"/><circle cx="37.27" cy="57.42" r="11.2" fill="none" stroke="#fff" stroke-width="2.6"/></g>
<path d="M97.89,917.00 A18.6,18.6 0 0 1 104.05,918.15 L101.13,926.03 A10.2,10.2 0 0 0 97.76,925.40 Z" fill="#e5243b"/><path d="M104.59,918.36 A18.6,18.6 0 0 1 109.91,921.66 L104.35,927.96 A10.2,10.2 0 0 0 101.43,926.15 Z" fill="#dda63a"/><path d="M110.35,922.05 A18.6,18.6 0 0 1 114.12,927.05 L106.66,930.91 A10.2,10.2 0 0 0 104.59,928.17 Z" fill="#4c9f38"/><path d="M114.38,927.57 A18.6,18.6 0 0 1 116.09,933.59 L107.74,934.50 A10.2,10.2 0 0 0 106.80,931.20 Z" fill="#c5192d"/><path d="M116.15,934.17 A18.6,18.6 0 0 1 115.57,940.41 L107.45,938.24 A10.2,10.2 0 0 0 107.77,934.82 Z" fill="#ff3a21"/><path d="M115.41,940.97 A18.6,18.6 0 0 1 112.62,946.57 L105.84,941.62 A10.2,10.2 0 0 0 107.37,938.55 Z" fill="#26bde2"/><path d="M112.27,947.04 A18.6,18.6 0 0 1 107.64,951.26 L103.11,944.19 A10.2,10.2 0 0 0 105.64,941.87 Z" fill="#fcc30b"/><path d="M107.14,951.57 A18.6,18.6 0 0 1 101.30,953.83 L99.63,945.60 A10.2,10.2 0 0 0 102.83,944.36 Z" fill="#a21942"/><path d="M100.73,953.93 A18.6,18.6 0 0 1 94.47,953.93 L95.88,945.65 A10.2,10.2 0 0 0 99.32,945.65 Z" fill="#fd6925"/><path d="M93.90,953.83 A18.6,18.6 0 0 1 88.06,951.57 L92.37,944.36 A10.2,10.2 0 0 0 95.57,945.60 Z" fill="#dd1367"/><path d="M87.56,951.26 A18.6,18.6 0 0 1 82.93,947.04 L89.56,941.87 A10.2,10.2 0 0 0 92.09,944.19 Z" fill="#fd9d24"/><path d="M82.58,946.57 A18.6,18.6 0 0 1 79.79,940.97 L87.83,938.55 A10.2,10.2 0 0 0 89.36,941.62 Z" fill="#bf8b2e"/><path d="M79.63,940.41 A18.6,18.6 0 0 1 79.05,934.17 L87.43,934.82 A10.2,10.2 0 0 0 87.75,938.24 Z" fill="#3f7e44"/><path d="M79.11,933.59 A18.6,18.6 0 0 1 80.82,927.57 L88.40,931.20 A10.2,10.2 0 0 0 87.46,934.50 Z" fill="#0a97d9"/><path d="M81.08,927.05 A18.6,18.6 0 0 1 84.85,922.05 L90.61,928.17 A10.2,10.2 0 0 0 88.54,930.91 Z" fill="#56c02b"/><path d="M85.29,921.66 A18.6,18.6 0 0 1 90.61,918.36 L93.77,926.15 A10.2,10.2 0 0 0 90.85,927.96 Z" fill="#00689d"/><path d="M91.15,918.15 A18.6,18.6 0 0 1 97.31,917.00 L97.44,925.40 A10.2,10.2 0 0 0 94.07,926.03 Z" fill="#19486a"/>
</svg>
<div id="tx">
<div class="t b" style="left:49.3px;top:48.7px;font-size:49.31px;transform:scaleX(1.0696);color:#0db14b;letter-spacing:0.035em;-webkit-text-stroke:1.08px #0db14b;">桑竹会</div>
<div class="t b" style="left:213.5px;top:48.7px;font-size:49.31px;transform:scaleX(0.9145);color:#0db14b;-webkit-text-stroke:1.08px #0db14b;">が</div>
<div class="t b" style="left:265.5px;top:48.7px;font-size:49.31px;transform:scaleX(1.0446);color:#0db14b;-webkit-text-stroke:1.08px #0db14b;">考</div>
<div class="t b" style="left:317.4px;top:48.7px;font-size:49.31px;transform:scaleX(1.0489);color:#0db14b;-webkit-text-stroke:1.08px #0db14b;">え</div>
<div class="t b" style="left:363.6px;top:48.7px;font-size:49.31px;transform:scaleX(0.9556);color:#0db14b;-webkit-text-stroke:1.08px #0db14b;">る</div>
<div class="t b" style="left:384.2px;top:48.2px;font-size:82.41px;transform:scaleX(0.6353);color:#0db14b;-webkit-text-stroke:1.81px #0db14b;">「</div>
<div class="t b" style="left:439.4px;top:48.7px;font-size:49.31px;transform:scaleX(1.0674);color:#0db14b;letter-spacing:0.035em;-webkit-text-stroke:1.08px #0db14b;">桑名竹取物語事業化協議会</div>
<div class="t b" style="left:1085.7px;top:48.7px;font-size:49.31px;transform:scaleX(1.0046);color:#0db14b;-webkit-text-stroke:1.08px #0db14b;">と</div>
<div class="t b" style="left:1131.1px;top:45.3px;font-size:59.15px;transform:scaleX(0.9435);color:#0db14b;-webkit-text-stroke:0.71px #0db14b;">SDGs</div>
<div class="t b" style="left:1281.6px;top:18.8px;font-size:82.26px;transform:scaleX(0.6436);color:#0db14b;-webkit-text-stroke:1.81px #0db14b;">」</div>
<div class="t b" style="left:95.8px;top:250.0px;font-size:35.71px;transform:scaleX(1.0621);color:#000;-webkit-text-stroke:0.79px #000;">【</div>
<div class="t b" style="left:133.7px;top:250.1px;font-size:34.51px;transform:scaleX(1.1121);color:#000;letter-spacing:0.035em;-webkit-text-stroke:0.76px #000;">三方良</div>
<div class="t b" style="left:249.5px;top:250.1px;font-size:34.51px;transform:scaleX(0.9879);color:#000;-webkit-text-stroke:0.76px #000;">し</div>
<div class="t b" style="left:283.1px;top:250.1px;font-size:34.51px;transform:scaleX(0.9517);color:#000;-webkit-text-stroke:0.76px #000;">の</div>
<div class="t b" style="left:319.6px;top:250.1px;font-size:34.51px;transform:scaleX(1.1122);color:#000;letter-spacing:0.035em;-webkit-text-stroke:0.76px #000;">理念</div>
<div class="t b" style="left:393.6px;top:249.5px;font-size:36.53px;transform:scaleX(1.0761);color:#000;-webkit-text-stroke:0.80px #000;">】</div>
<div class="t b" style="left:984.7px;top:250.3px;font-size:33.50px;transform:scaleX(1.1310);color:#000;letter-spacing:0.035em;-webkit-text-stroke:0.74px #000;">地方創生</div>
<div class="t b" style="left:1139.6px;top:246.4px;font-size:42.82px;transform:scaleX(1.0576);color:#000;-webkit-text-stroke:0.51px #000;">SDGs</div>
<div class="t b" style="left:1262.5px;top:250.3px;font-size:33.50px;transform:scaleX(0.7322);color:#000;-webkit-text-stroke:0.74px #000;">の</div>
<div class="t b" style="left:1292.3px;top:250.3px;font-size:33.50px;transform:scaleX(1.0976);color:#000;letter-spacing:0.035em;-webkit-text-stroke:0.74px #000;">推進</div>
<div class="t b" style="left:536.5px;top:603.0px;font-size:35.35px;transform:scaleX(1.0889);color:#000;letter-spacing:0.035em;-webkit-text-stroke:0.78px #000;">竹林保全</div>
<div class="t b" style="left:692.3px;top:588.6px;font-size:50.42px;transform:scaleX(1.0083);color:#000;-webkit-text-stroke:1.11px #000;">、</div>
<div class="t b" style="left:723.2px;top:603.0px;font-size:35.35px;transform:scaleX(1.0793);color:#000;letter-spacing:0.035em;-webkit-text-stroke:0.78px #000;">地域発展</div>
<div class="t b" style="left:482.5px;top:444.7px;font-size:34.22px;transform:scaleX(1.0926);color:#000;letter-spacing:0.040em;-webkit-text-stroke:0.75px #000;">桑名竹取物語事業化協議会</div>
<div class="t" style="left:498.5px;top:489.8px;font-size:19.80px;transform:scaleX(1.2424);color:#000;-webkit-text-stroke:0.28px #000;">3側面(社会/経済/環境)</div>
<div class="t" style="left:739.5px;top:489.8px;font-size:19.80px;transform:scaleX(0.8859);color:#000;-webkit-text-stroke:0.28px #000;">をつなぐ</div>
<div class="t" style="left:810.5px;top:489.8px;font-size:19.80px;transform:scaleX(1.1684);color:#000;-webkit-text-stroke:0.28px #000;">統合的取組</div>
<div class="t b" style="left:497.4px;top:360.0px;font-size:25.77px;transform:scaleX(0.9664);color:#fff;-webkit-text-stroke:0.46px #fff;">ヒルカワ</div>
<div class="t b" style="left:599.0px;top:360.0px;font-size:25.77px;transform:scaleX(1.1026);color:#fff;-webkit-text-stroke:0.46px #fff;">金属</div>
<div class="t b" style="left:533.9px;top:390.6px;font-size:33.51px;transform:scaleX(1.0231);color:#fff;-webkit-text-stroke:0.40px #fff;">(</div>
<div class="t b" style="left:549.6px;top:396.4px;font-size:24.41px;transform:scaleX(1.2065);color:#fff;-webkit-text-stroke:0.44px #fff;">経済</div>
<div class="t b" style="left:613.1px;top:390.6px;font-size:33.51px;transform:scaleX(1.0231);color:#fff;-webkit-text-stroke:0.40px #fff;">)</div>
<div class="t b" style="left:790.3px;top:359.8px;font-size:26.21px;transform:scaleX(1.1188);color:#fff;-webkit-text-stroke:0.47px #fff;">桑名市</div>
<div class="t b" style="left:790.0px;top:390.6px;font-size:33.51px;transform:scaleX(1.0231);color:#fff;-webkit-text-stroke:0.40px #fff;">(</div>
<div class="t b" style="left:806.3px;top:395.9px;font-size:24.65px;transform:scaleX(1.1765);color:#fff;-webkit-text-stroke:0.44px #fff;">社会</div>
<div class="t b" style="left:869.0px;top:390.6px;font-size:33.51px;transform:scaleX(1.0231);color:#fff;-webkit-text-stroke:0.40px #fff;">)</div>
<div class="t b" style="left:658.6px;top:529.4px;font-size:27.17px;transform:scaleX(1.0869);color:#fff;-webkit-text-stroke:0.49px #fff;">桑竹会</div>
<div class="t b" style="left:658.6px;top:561.1px;font-size:33.83px;transform:scaleX(1.0135);color:#fff;-webkit-text-stroke:0.41px #fff;">(</div>
<div class="t b" style="left:674.6px;top:566.9px;font-size:24.95px;transform:scaleX(1.1746);color:#fff;-webkit-text-stroke:0.45px #fff;">環境</div>
<div class="t b" style="left:737.8px;top:561.1px;font-size:33.83px;transform:scaleX(1.0135);color:#fff;-webkit-text-stroke:0.41px #fff;">)</div>
<div class="t b" style="left:734.2px;top:135.9px;font-size:19.80px;transform:scaleX(1.1415);color:#fff;-webkit-text-stroke:0.36px #fff;">経済面の</div>
<div class="t b" style="left:733.5px;top:163.0px;font-size:20.40px;transform:scaleX(1.1222);color:#fff;-webkit-text-stroke:0.37px #fff;">相乗効果</div>
<div class="t b" style="left:557.3px;top:184.0px;font-size:20.00px;transform:scaleX(1.1303);color:#fff;-webkit-text-stroke:0.36px #fff;">社会面の</div>
<div class="t b" style="left:556.6px;top:211.5px;font-size:20.40px;transform:scaleX(1.1222);color:#fff;-webkit-text-stroke:0.37px #fff;">相乗効果</div>
<div class="t b" style="left:138.8px;top:604.9px;font-size:20.00px;transform:scaleX(1.1303);color:#fff;-webkit-text-stroke:0.36px #fff;">環境面の</div>
<div class="t b" style="left:138.1px;top:632.0px;font-size:20.40px;transform:scaleX(1.1222);color:#fff;-webkit-text-stroke:0.37px #fff;">相乗効果</div>
<div class="t b" style="left:138.5px;top:756.8px;font-size:19.80px;transform:scaleX(1.1415);color:#fff;-webkit-text-stroke:0.36px #fff;">経済面の</div>
<div class="t b" style="left:137.8px;top:783.9px;font-size:20.40px;transform:scaleX(1.1222);color:#fff;-webkit-text-stroke:0.37px #fff;">相乗効果</div>
<div class="t b" style="left:1178.8px;top:602.9px;font-size:20.00px;transform:scaleX(1.1303);color:#fff;-webkit-text-stroke:0.36px #fff;">環境面の</div>
<div class="t b" style="left:1178.1px;top:630.0px;font-size:20.40px;transform:scaleX(1.1222);color:#fff;-webkit-text-stroke:0.37px #fff;">相乗効果</div>
<div class="t b" style="left:1179.0px;top:755.0px;font-size:20.00px;transform:scaleX(1.1303);color:#fff;-webkit-text-stroke:0.36px #fff;">社会面の</div>
<div class="t b" style="left:1178.3px;top:782.5px;font-size:20.40px;transform:scaleX(1.1222);color:#fff;-webkit-text-stroke:0.37px #fff;">相乗効果</div>
<div class="t" style="left:332.9px;top:406.4px;font-size:20.71px;transform:scaleX(1.1476);color:#000;-webkit-text-stroke:0.29px #000;">雇用創出</div>
<div class="t" style="left:334.2px;top:433.9px;font-size:21.12px;transform:scaleX(1.0903);color:#000;-webkit-text-stroke:0.30px #000;">技術革新</div>
<div class="t" style="left:333.4px;top:461.5px;font-size:20.82px;transform:scaleX(1.0492);color:#000;-webkit-text-stroke:0.29px #000;">CSR</div>
<div class="t" style="left:380.1px;top:461.5px;font-size:20.82px;transform:scaleX(0.8825);color:#000;-webkit-text-stroke:0.29px #000;">の</div>
<div class="t" style="left:399.2px;top:461.5px;font-size:20.82px;transform:scaleX(1.1044);color:#000;-webkit-text-stroke:0.29px #000;">実施</div>
<div class="t" style="left:334.0px;top:489.2px;font-size:20.82px;transform:scaleX(1.0963);color:#000;-webkit-text-stroke:0.29px #000;">寄付</div>
<div class="t" style="left:1101.5px;top:405.6px;font-size:20.60px;transform:scaleX(0.9814);color:#000;-webkit-text-stroke:0.29px #000;">潤いのある豊かな生活を</div>
<div class="t" style="left:1101.5px;top:433.6px;font-size:20.00px;transform:scaleX(0.9364);color:#000;-webkit-text-stroke:0.28px #000;">安心して営むことができる</div>
<div class="t" style="left:1102.2px;top:460.5px;font-size:20.92px;transform:scaleX(1.0718);color:#000;-webkit-text-stroke:0.29px #000;">地域社会の形成</div>
<div class="t" style="left:506.2px;top:759.9px;font-size:19.51px;transform:scaleX(1.1447);color:#000;-webkit-text-stroke:0.27px #000;">桑名地区の放置竹林を</div>
<div class="t" style="left:729.8px;top:759.9px;font-size:19.51px;transform:scaleX(0.9711);color:#000;-webkit-text-stroke:0.27px #000;">災害にも強く美しく</div>
<div class="t" style="left:899.7px;top:759.9px;font-size:19.51px;transform:scaleX(1.0812);color:#000;-webkit-text-stroke:0.27px #000;">整備し、</div>
<div class="t" style="left:507.3px;top:787.3px;font-size:20.31px;transform:scaleX(1.0632);color:#000;-webkit-text-stroke:0.28px #000;">里山環境を保全する。</div>
<div class="t" style="left:507.3px;top:814.8px;font-size:20.10px;transform:scaleX(1.0457);color:#000;-webkit-text-stroke:0.28px #000;">又竹林産物を活用して</div>
<div class="t" style="left:718.6px;top:814.8px;font-size:20.10px;transform:scaleX(1.0783);color:#000;-webkit-text-stroke:0.28px #000;">地域の発展を目指し、</div>
<div class="t" style="left:507.3px;top:842.0px;font-size:20.60px;transform:scaleX(0.9941);color:#000;-webkit-text-stroke:0.29px #000;">会員の健康で楽しい</div>
<div class="t" style="left:696.3px;top:842.0px;font-size:20.60px;transform:scaleX(1.0548);color:#000;-webkit-text-stroke:0.29px #000;">仲間作り。</div>
<div class="t" style="left:213.3px;top:923.7px;font-size:55.40px;transform:scaleX(0.5590);color:#000;-webkit-text-stroke:0.78px #000;">「</div>
<div class="t" style="left:243.4px;top:925.4px;font-size:30.62px;transform:scaleX(1.0780);color:#000;-webkit-text-stroke:0.43px #000;">桑竹会</div>
<div class="t" style="left:344.6px;top:925.4px;font-size:30.62px;transform:scaleX(0.9143);color:#000;-webkit-text-stroke:0.43px #000;">は</div>
<div class="t" style="left:373.3px;top:925.4px;font-size:30.62px;transform:scaleX(1.0692);color:#000;-webkit-text-stroke:0.43px #000;">持続可能</div>
<div class="t" style="left:504.2px;top:925.4px;font-size:30.62px;transform:scaleX(0.9909);color:#000;-webkit-text-stroke:0.43px #000;">な</div>
<div class="t" style="left:533.7px;top:925.4px;font-size:30.62px;transform:scaleX(1.0943);color:#000;-webkit-text-stroke:0.43px #000;">開発目標</div>
<div class="t" style="left:672.3px;top:921.3px;font-size:35.11px;transform:scaleX(0.9859);color:#000;-webkit-text-stroke:0.49px #000;">(SDGs)</div>
<div class="t" style="left:784.3px;top:925.4px;font-size:30.62px;transform:scaleX(0.8432);color:#000;-webkit-text-stroke:0.43px #000;">を</div>
<div class="t" style="left:810.0px;top:925.4px;font-size:30.62px;transform:scaleX(1.1310);color:#000;-webkit-text-stroke:0.43px #000;">支援</div>
<div class="t" style="left:873.4px;top:925.4px;font-size:30.62px;transform:scaleX(0.8723);color:#000;-webkit-text-stroke:0.43px #000;">しています</div>
<div class="t" style="left:1008.0px;top:903.7px;font-size:55.20px;transform:scaleX(0.6019);color:#000;-webkit-text-stroke:0.77px #000;">」</div>
<div class="t b" style="left:44.7px;top:868.5px;font-size:22.90px;transform:scaleX(0.9818);color:#1a9bd7;-webkit-text-stroke:0.7px #1a9bd7;">SUSTAINABLE</div>
<div class="t b" style="left:44.3px;top:891.8px;font-size:22.61px;transform:scaleX(0.9146);color:#1a9bd7;-webkit-text-stroke:0.7px #1a9bd7;">DEVELOPMENT</div>
<div class="t b" style="left:43.6px;top:910.5px;font-size:50.28px;transform:scaleX(0.8950);color:#1a9bd7;-webkit-text-stroke:0.9px #1a9bd7;">G</div>
<div class="t b" style="left:113.3px;top:910.5px;font-size:50.28px;transform:scaleX(0.9120);color:#1a9bd7;-webkit-text-stroke:0.9px #1a9bd7;">ALS</div>
</div>
</body>
</html>
